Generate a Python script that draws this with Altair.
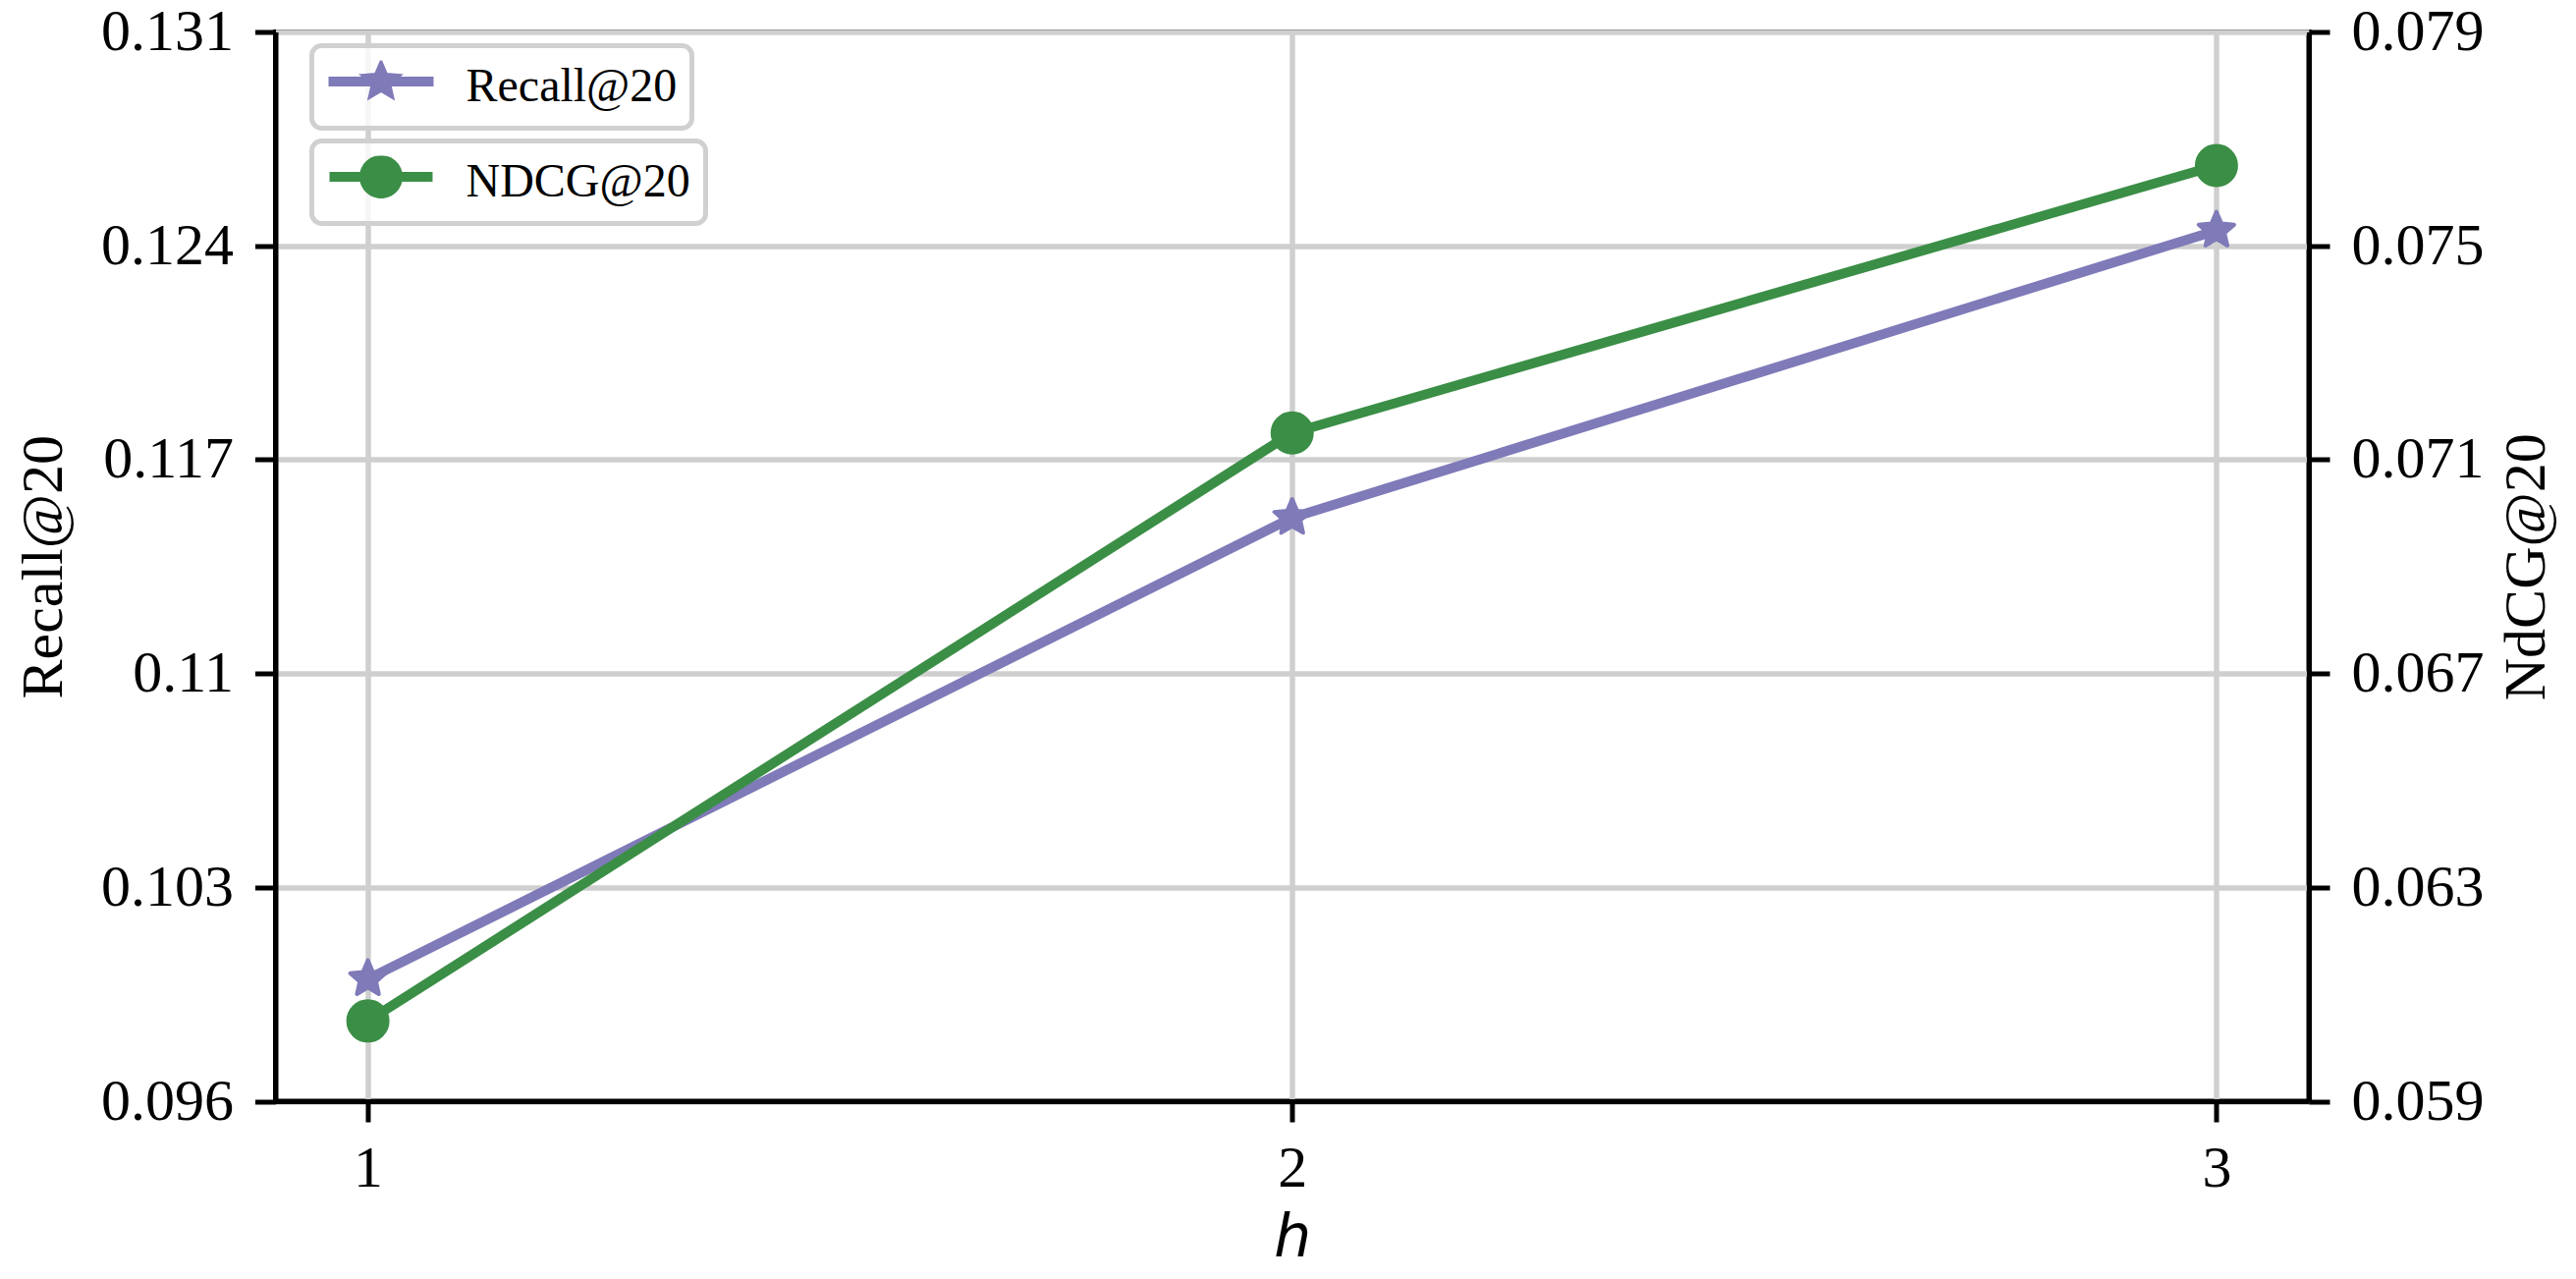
import math
import altair as alt
import pandas as pd

# ---------------- data ----------------
h_values = [1, 2, 3]
recall_values = [0.1000, 0.1151, 0.1245]
ndcg_values = [0.0605, 0.0715, 0.0765]

x_ticks = [1, 2, 3]
recall_ticks = [0.096, 0.103, 0.110, 0.117, 0.124, 0.131]
ndcg_ticks = [0.059, 0.063, 0.067, 0.071, 0.075, 0.079]

series_names = ["Recall@20", "NDCG@20"]
axis_titles = ["Recall@20", "NdCG@20"]
x_title = "h"
colors = ["#7f7ab8", "#3b8e46"]

df = pd.DataFrame({
    "h": h_values,
    "recall": recall_values,
    "ndcg": ndcg_values,
    "s_recall": [series_names[0]] * len(h_values),
    "s_ndcg": [series_names[1]] * len(h_values),
})

# ---------------- symbol shapes ----------------
STAR_INNER = 0.46


def star_path(r_out, dy=0.0, inner=STAR_INNER):
    pts = []
    for k in range(10):
        th = math.radians(36 * k)
        r = r_out if k % 2 == 0 else r_out * inner
        pts.append((r * math.sin(th), -r * math.cos(th) + dy))
    return "M" + " L".join(f"{x:.4f},{y:.4f}" for x, y in pts) + " Z"


def circle_path(r, dy=0.0, n=64):
    pts = []
    for k in range(n):
        a = 2 * math.pi * k / n
        pts.append((r * math.sin(a), -r * math.cos(a) + dy))
    return "M" + " L".join(f"{x:.4f},{y:.4f}" for x, y in pts) + " Z"


def bar_path(t, dy=0.0, half=1.0):
    return (f"M{-half:.4f},{-t + dy:.4f} L{half:.4f},{-t + dy:.4f} "
            f"L{half:.4f},{t + dy:.4f} L{-half:.4f},{t + dy:.4f} Z")


EDGE = 4.0                 # marker edge width (px)
STAR_R = 19.0              # star fill radius (px)
LEG_SCALE = 53.5           # px per legend unit (sqrt(size)/2)
leg_dy = -5.5 / LEG_SCALE
leg_t = (5.0 - EDGE / 2) / LEG_SCALE
leg_half = (53.5 - EDGE / 2) / LEG_SCALE
recall_leg_shape = (bar_path(leg_t, leg_dy, half=leg_half) + " "
                    + star_path(STAR_R / LEG_SCALE, leg_dy))
ndcg_leg_shape = (bar_path(leg_t, leg_dy, half=leg_half * 0.98) + " "
                  + circle_path((22.0 - EDGE / 2) / LEG_SCALE, leg_dy))
star_shape = star_path(1.0)

FONT = "Liberation Serif"

# ---------------- encodings ----------------
x_enc = alt.X(
    "h:Q",
    scale=alt.Scale(domain=[0.9, 3.1], nice=False, zero=False),
    axis=alt.Axis(
        values=x_ticks, format="d", title=x_title,
        titleFont="DejaVu Sans", titleFontStyle="italic", titleFontSize=60,
        titlePadding=12, labelPadding=18, grid=True,
    ),
)

y_left = alt.Y(
    "recall:Q",
    scale=alt.Scale(domain=[recall_ticks[0], recall_ticks[-1]], nice=False, zero=False),
    axis=alt.Axis(
        orient="left", values=recall_ticks, format=".3~f", title=axis_titles[0],
        titlePadding=27, labelPadding=22, grid=True,
    ),
)

y_right = alt.Y(
    "ndcg:Q",
    scale=alt.Scale(domain=[ndcg_ticks[0], ndcg_ticks[-1]], nice=False, zero=False),
    axis=alt.Axis(
        orient="right", values=ndcg_ticks, format=".3~f", title=axis_titles[1],
        titlePadding=14, labelPadding=22, grid=False,
        titleAngle=270, titleBaseline="top",
    ),
)

leg_common = dict(
    orient="none", title=None, labelFont=FONT, labelFontSize=48, labelColor="black",
    labelLimit=600, symbolSize=11449, symbolStrokeWidth=EDGE,
    symbolOffset=0, labelOffset=31, labelBaseline="middle",
    symbolOpacity=1, legendX=37,
)

color_recall = alt.Color(
    "s_recall:N",
    scale=alt.Scale(domain=[series_names[0]], range=[colors[0]]),
    legend=alt.Legend(legendY=14, symbolType=recall_leg_shape,
                      symbolFillColor=colors[0], symbolStrokeColor=colors[0],
                      **leg_common),
)
color_ndcg = alt.Color(
    "s_ndcg:N",
    scale=alt.Scale(domain=[series_names[1]], range=[colors[1]]),
    legend=alt.Legend(legendY=111, symbolType=ndcg_leg_shape,
                      symbolFillColor=colors[1], symbolStrokeColor=colors[1],
                      **leg_common),
)

base = alt.Chart(df)

recall_line = base.mark_line(color=colors[0], strokeWidth=10, strokeJoin="round").encode(
    x=x_enc, y=y_left)
recall_pts = base.mark_point(
    filled=True, shape=star_shape, size=(2 * STAR_R) ** 2, opacity=1,
    stroke=colors[0], strokeWidth=EDGE, strokeJoin="round",
).encode(x=x_enc, y=y_left, color=color_recall)

ndcg_line = base.mark_line(color=colors[1], strokeWidth=10, strokeJoin="round").encode(
    x=x_enc, y=y_right)
ndcg_pts = base.mark_point(
    filled=True, shape="circle", size=1600, opacity=1,
    stroke=colors[1], strokeWidth=EDGE,
).encode(x=x_enc, y=y_right, color=color_ndcg)

left = alt.layer(recall_line, recall_pts)
right = alt.layer(ndcg_line, ndcg_pts)

chart = (
    alt.layer(left, right)
    .resolve_scale(y="independent", color="independent")
    .resolve_legend(color="independent")
    .properties(
        width=2070.5, height=1088.5,
        autosize=alt.AutoSizeParams(type="none"),
        padding={"left": 272.5, "top": 24.5, "right": 264, "bottom": 172},
        background="white",
    )
    .configure_view(stroke="black", strokeWidth=5)
    .configure_axis(
        labelFont=FONT, labelFontSize=60, labelColor="black",
        titleFont=FONT, titleFontSize=60, titleColor="black", titleFontWeight="normal",
        domainColor="black", domainWidth=5,
        tickColor="black", tickWidth=5, tickSize=21,
        gridColor="#cfcfcf", gridWidth=5.5,
        labelFlush=False, labelOverlap=False,
    )
    .configure_legend(
        padding=15, strokeColor="#d0d0d0", strokeWidth=5, cornerRadius=10,
        fillColor="rgba(255,255,255,0.8)", clipHeight=54,
    )
)

chart.save("out.html", embed_options={"renderer": "svg", "actions": False})
